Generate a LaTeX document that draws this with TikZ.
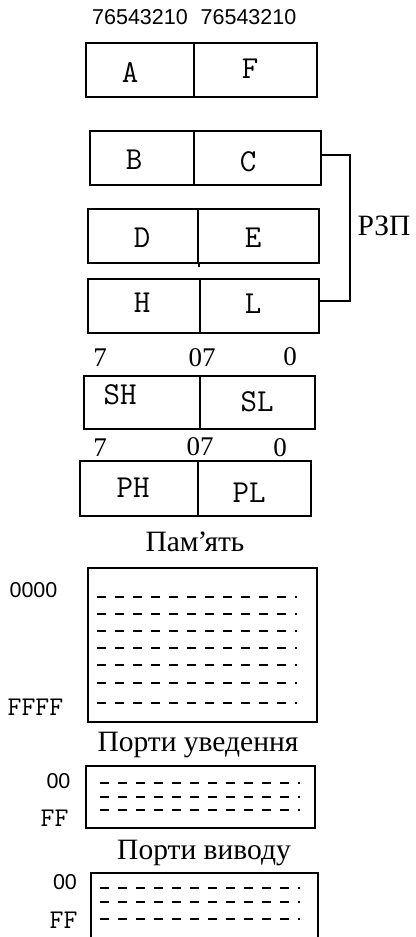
\documentclass[tikz,border=0pt]{standalone}
\usepackage{fontspec}
\setmainfont{Liberation Serif}
\newfontfamily\sansf{Liberation Sans}
\newfontfamily\seriff{Liberation Serif}
\begin{document}
\begin{tikzpicture}[x=1pt,y=-1pt,
  cell/.style={draw, line width=1.8pt, inner sep=0pt},
  reg/.style={font=\ttfamily\fontsize{32}{34}\selectfont, inner sep=0pt, text depth=0pt},
  hexl/.style={font=\ttfamily\fontsize{27}{28}\selectfont, inner sep=0pt, text depth=0pt},
  dig/.style={font=\sansf\fontsize{21.5}{24}\selectfont, inner sep=0pt, text depth=0pt},
  bitn/.style={font=\seriff\fontsize{27}{28}\selectfont, inner sep=0pt, text depth=0pt},
  cyr/.style={font=\seriff\fontsize{29.5}{31}\selectfont, inner sep=0pt, text depth=0pt},
  dl/.style={line width=2pt, dash pattern=on 9pt off 9pt},
  conn/.style={line width=1.8pt}
]
\useasboundingbox (0,0) rectangle (415,937);

% bit numbers
\node[dig] (bits1) at (140,17) {76543210};
\node[dig] (bits2) at (248.5,17) {76543210};

% A | F
\node[cell, minimum width=108pt, minimum height=54pt] (A) at (140,70) {};
\node[cell, minimum width=123pt, minimum height=54pt] (F) at (255.5,70) {};
\node[reg] (tA) at (130,72) {A};
\node[reg] (tF) at (250,69) {F};

% B | C
\node[cell, minimum width=104pt, minimum height=54pt] (B) at (142,158) {};
\node[cell, minimum width=127pt, minimum height=54pt] (C) at (257.5,158) {};
\node[reg] (tB) at (134,160) {B};
\node[reg] (tC) at (248,162) {C};

% D | E
\node[cell, minimum width=110pt, minimum height=54pt] (D) at (143,236) {};
\node[cell, minimum width=121pt, minimum height=54pt] (E) at (258.5,236) {};
\draw[conn] (D.south east) -- ++(0,3);
\node[reg] (tD) at (142,238) {D};
\node[reg] (tE) at (253,238) {E};

% H | L
\node[cell, minimum width=112pt, minimum height=54pt] (H) at (144,306) {};
\node[cell, minimum width=119pt, minimum height=54pt] (L) at (259.5,306) {};
\node[reg] (tH) at (142,303) {H};
\node[reg] (tL) at (253,304) {L};

% bracket RZP
\draw[conn] ([yshift=3pt]C.east) -- ++(28,0) |- ([yshift=5pt]L.east);
\node[cyr] (rzp) at (384,226) {РЗП};

% bit labels 1
\node[bitn] (b7a) at (100,358) {7};
\node[bitn] (b07a) at (202,358) {07};
\node[bitn] (b0a) at (290,357) {0};

% SH | SL
\node[cell, minimum width=116pt, minimum height=53pt] (SH) at (142,402.5) {};
\node[cell, minimum width=115pt, minimum height=53pt] (SL) at (257.5,402.5) {};
\node[reg] (tSH) at (120,395) {SH};
\node[reg] (tSL) at (257,402) {SL};

% bit labels 2
\node[bitn] (b7b) at (100,448) {7};
\node[bitn] (b07b) at (200,447) {07};
\node[bitn] (b0b) at (280,448) {0};

% PH | PL
\node[cell, minimum width=118pt, minimum height=55pt] (PH) at (139,488.5) {};
\node[cell, minimum width=113pt, minimum height=55pt] (PL) at (254.5,488.5) {};
\node[reg] (tPH) at (133,488) {PH};
\node[reg] (tPL) at (249,493) {PL};

% memory
\node[cyr] (memt) at (195,541.7) {Пам\kern-1pt’\kern-3pt ять};
\node[cell, minimum width=229pt, minimum height=154pt] (mem) at (202.5,645) {};
\foreach \yy in {597,614,631,648,665,683,703}
  \draw[dl] (97,\yy) -- (297,\yy);
\node[dig] (m0) at (33.5,590) {0000};
\node[hexl] (mF) at (35.5,707) {FFFF};

% input ports
\node[cyr] (int) at (198,741.7) {Порти уведення};
\node[cell, minimum width=229pt, minimum height=62pt] (inp) at (200.5,797) {};
\foreach \yy in {783,797,810}
  \draw[dl] (100,\yy) -- (300,\yy);
\node[dig] (i0) at (58.5,781) {00};
\node[hexl] (iF) at (54.5,818) {FF};

% output ports
\node[cyr] (outt) at (204,850) {Порти виводу};
\node[cell, minimum width=227pt, minimum height=80pt, anchor=north west] (outp) at (90,872) {};
\foreach \yy in {888,902,919}
  \draw[dl] (100,\yy) -- (300,\yy);
\node[dig] (o0) at (65,882) {00};
\node[hexl] (oF) at (63.5,920) {FF};
\end{tikzpicture}
\end{document}
